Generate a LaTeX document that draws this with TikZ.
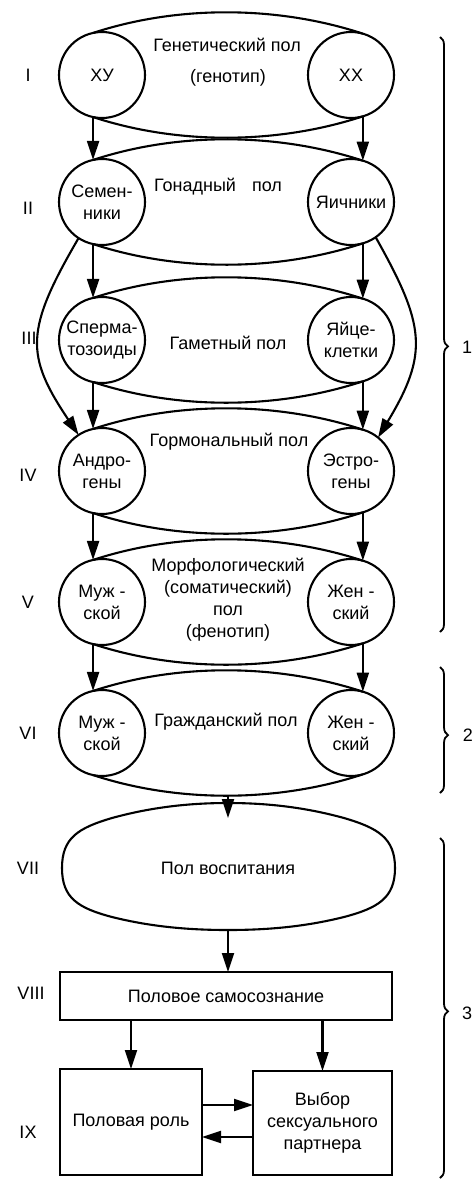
\documentclass[tikz,border=0pt]{standalone}
\usepackage{fontspec}
\setmainfont{Liberation Sans}
\usetikzlibrary{arrows.meta,decorations.pathreplacing}
\begin{document}
\begin{tikzpicture}[x=1pt,y=-1pt,
  every node/.style={font=\fontsize{18}{22}\selectfont, align=center, inner sep=0pt},
  circ/.style={circle, draw, line width=2.1pt, minimum size=86pt, inner sep=-5pt, outer sep=0pt},
  arr/.style={line width=2.1pt, -{Triangle[length=19pt,width=12pt]}},
  ln/.style={line width=2.1pt},
  bx/.style={draw, line width=2.1pt, outer sep=0pt},
  brc/.style={line width=1.8pt, decorate, decoration={brace, amplitude=8pt, aspect=#1}},
]
\useasboundingbox (0,0) rectangle (475,1181);

% circles
\node[circ] (L1) at (102,75) {ХУ};
\node[circ] (R1) at (351,75) {ХХ};
\node[circ] (L2) at (102,202) {Семен-\\ники};
\node[circ] (R2) at (351,202) {Яичники};
\node[circ] (L3) at (102,340) {Сперма-\\тозоиды};
\node[circ] (R3) at (351,340) {Яйце-\\клетки};
\node[circ] (L4) at (102,471) {Андро-\\гены};
\node[circ] (R4) at (351,471) {Эстро-\\гены};
\node[circ] (L5) at (102,602) {Муж -\\ской};
\node[circ] (R5) at (351,602) {Жен -\\ский};
\node[circ] (L6) at (102,733) {Муж -\\ской};
\node[circ] (R6) at (351,733) {Жен -\\ский};

% lenses
\foreach \n in {1,...,6}{
  \draw[ln] (L\n.102) .. controls +(85,-28) and +(-85,-28) .. (R\n.74);
  \draw[ln] (L\n.258) .. controls +(85,28) and +(-85,28) .. (R\n.286);
}

% lens texts
\node (t1a) at (227,45) {Генетический пол};
\node (t1b) at (228,78) {(генотип)};
\node (t2) at (218,187) {Гонадный\hspace{16pt}пол};
\node (t3) at (228,343) {Гаметный пол};
\node (t4) at (229,442) {Гормональный пол};
\node (t5) at (228,600) {Морфологический\\(соматический)\\пол\\(фенотип)};
\node (t6) at (226,722) {Гражданский пол};

% vertical arrows between rows
\foreach \a/\b in {1/2,2/3,3/4,4/5,5/6}{
  \draw[arr] (L\a.258) -- (L\b.102);
  \draw[arr] (R\a.286) -- (R\b.74);
}

% long curved arrows
\draw[arr] (L2.237) .. controls (25,330) and (25,355) .. (L4.123);
\draw[arr] (R2.305) .. controls (425,325) and (429,353) .. (R4.51);

% VII
\node (vii) at (228,868) {Пол воспитания};
\draw[ln] (62,868) .. controls (62,838) and (78,828) .. (112,818)
  .. controls (152,807) and (190,803) .. (228,803)
  .. controls (266,803) and (304,807) .. (344,818)
  .. controls (378,828) and (395,838) .. (395,868)
  .. controls (395,898) and (378,908) .. (344,917)
  .. controls (304,927) and (266,930) .. (228,930)
  .. controls (190,930) and (152,927) .. (112,917)
  .. controls (78,908) and (62,898) .. (62,868) -- cycle;

\coordinate (c6) at (228,796);
\coordinate (c7) at (228,818);
\draw[arr] (c6) -- (c7);

% boxes
\node[bx, minimum width=332pt, minimum height=48pt] (viii) at (226,996) {Половое самосознание};
\node[bx, minimum width=142pt, minimum height=106pt] (ixl) at (131,1122) {Половая роль};
\node[bx, minimum width=139pt, minimum height=104pt] (ixr) at (322.5,1123) {Выбор\\сексуального\\партнера};

\coordinate (c7b) at (228,930);
\draw[arr] (c7b) -- (c7b |- viii.north);
\draw[arr] (viii.south -| ixl.north) -- (ixl.north);
\draw[arr] (viii.south -| ixr.north) -- (ixr.north);
\draw[arr] (ixl.east |- 0,1105) -- (ixr.west |- 0,1105);
\draw[arr] (ixr.west |- 0,1137) -- (ixl.east |- 0,1137);

% roman numerals
\node (r1) at (28,75) {I};
\node (r2) at (28,208) {II};
\node (r3) at (29,338) {III};
\node (r4) at (28,475) {IV};
\node (r5) at (28,602) {V};
\node (r6) at (28,733) {VI};
\node (r7) at (28,868) {VII};
\node (r8) at (31,993) {VIII};
\node (r9) at (28,1132) {IX};

% braces
\draw[brc=0.52] (440,37) -- (440,632);
\node (b1) at (467,347) {1};
\draw[brc=0.54] (440,667) -- (440,793);
\node (b2) at (468,735) {2};
\draw[brc=0.51] (440,838) -- (440,1178);
\node (b3) at (467,1013) {3};
\end{tikzpicture}
\end{document}
